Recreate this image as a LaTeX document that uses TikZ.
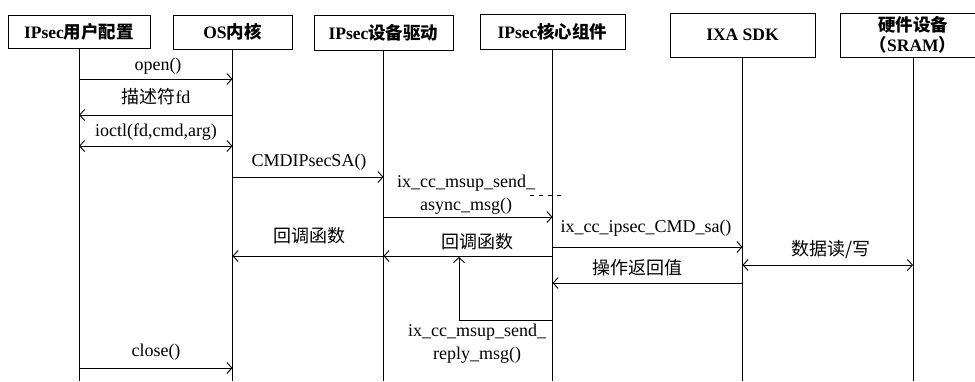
\documentclass[tikz,border=0pt]{standalone}
\usepackage{fontspec}
\setmainfont{Liberation Serif}
\newfontfamily\cjk{Noto Sans CJK SC}
\usetikzlibrary{arrows.meta}
\newcommand{\zh}[1]{{\cjk #1}}

\tikzset{
  actor/.style={draw, line width=0.9pt, inner sep=0pt, font=\fontsize{17.5}{19}\selectfont\bfseries},
  life/.style={line width=0.9pt},
  msg/.style={line width=0.9pt, -{Straight Barb[length=5pt,width=11pt]}},
  bimsg/.style={line width=0.9pt, {Straight Barb[length=5pt,width=11pt]}-{Straight Barb[length=5pt,width=11pt]}},
  lbl/.style={inner sep=0pt, font=\fontsize{18}{23}\selectfont, align=center},
}

\begin{document}
\begin{tikzpicture}[x=1pt,y=-1pt]
\useasboundingbox (0,0) rectangle (975,381);

% participants
\node[actor, minimum width=142, minimum height=33] (u) at (79,31.5) {IPsec\zh{用户配置}};
\node[actor, minimum width=119, minimum height=34] (k) at (232.5,32) {OS\zh{内核}};
\node[actor, minimum width=139, minimum height=35] (d) at (383.5,32.5) {IPsec\zh{设备驱动}};
\node[actor, minimum width=145, minimum height=35] (c) at (552.5,31.5) {IPsec\zh{核心组件}};
\node[actor, minimum width=145, minimum height=44] (s) at (742.5,35) {IXA SDK};
\node[actor, minimum width=146, minimum height=44, align=center,
      font=\fontsize{17.5}{22}\selectfont\bfseries] (h) at (913,35) {\zh{硬件设备}\\[-2pt]\zh{（}SRAM\zh{）}};

% lifeline ends
\coordinate (ue) at (u |- 0,381);
\coordinate (ke) at (k |- 0,381);
\coordinate (de) at (d |- 0,381);
\coordinate (ce) at (c |- 0,381);
\coordinate (se) at (s |- 0,381);
\coordinate (he) at (h |- 0,381);
\draw[life] (u.south) -- (ue);
\draw[life] (k.south) -- (ke);
\draw[life] (d.south) -- (de);
\draw[life] (c.south) -- (ce);
\draw[life] (s.south) -- (se);
\draw[life] (h.south) -- (he);

% user space <-> kernel
\node[lbl] (m1) at (158,66) {open()};
\draw[msg] (u |- 0,79) -- (k |- 0,79);
\node[lbl] (m2) at (156,97) {\zh{描述符}fd};
\draw[msg] (k |- 0,115) -- (u |- 0,115);
\node[lbl] (m3) at (156,132) {ioctl(fd,cmd,arg)};
\draw[bimsg] (u |- 0,146) -- (k |- 0,146);

% kernel -> driver -> core
\node[lbl] (m4) at (309,162) {CMDIPsecSA()};
\draw[msg] (k |- 0,177) -- (d |- 0,177);
\node[lbl] (m5) at (466,195) {ix\_cc\_msup\_send\_\\async\_msg()};
\draw[msg] (d |- 0,217) -- (c |- 0,217);
\draw[line width=0.8pt, dash pattern=on 4pt off 5pt] (530,195) -- (561,195);

% callbacks
\node[lbl] (m6) at (309,236) {\zh{回调函数}};
\draw[msg] (d |- 0,256) -- (k |- 0,256);
\node[lbl] (m7) at (477,242) {\zh{回调函数}};
\draw[msg] (c |- 0,256) -- (d |- 0,256);

% core <-> SDK <-> hardware
\node[lbl] (m8) at (646,228) {ix\_cc\_ipsec\_CMD\_sa()};
\draw[msg] (c |- 0,247) -- (s |- 0,247);
\node[lbl] (m9) at (831,250) {\zh{数据读/写}};
\draw[bimsg] (s |- 0,265) -- (h |- 0,265);
\node[lbl] (m10) at (637,268) {\zh{操作返回值}};
\draw[msg] (s |- 0,283) -- (c |- 0,283);

% reply loop back to the callback
\coordinate (rl) at (459,320);
\coordinate (rt) at (459,257);
\draw[msg] (c |- rl) -- (rl) -- (rt);
\node[lbl] (m11) at (477,344) {ix\_cc\_msup\_send\_\\reply\_msg()};

% close
\node[lbl] (m12) at (156,352) {close()};
\draw[msg] (u |- 0,368) -- (k |- 0,368);
\end{tikzpicture}
\end{document}
